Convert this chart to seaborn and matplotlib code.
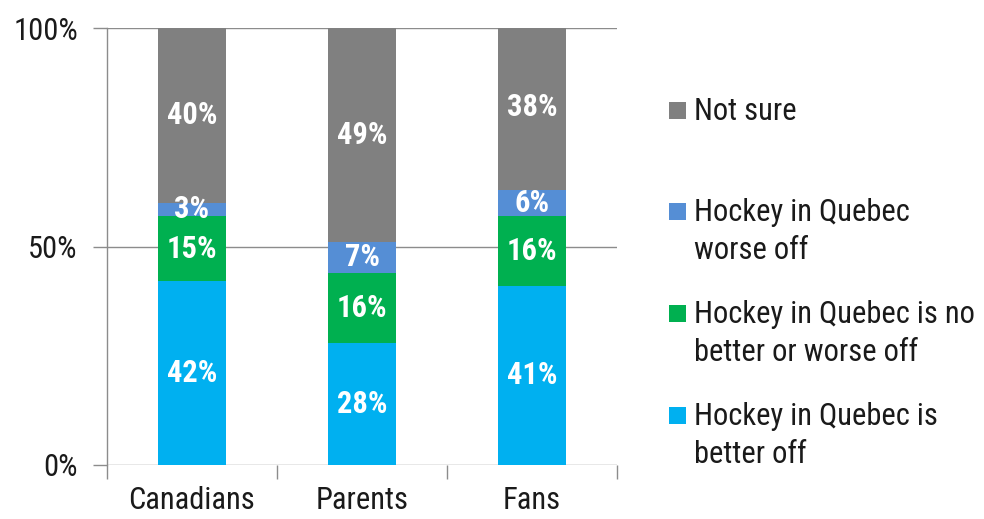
import numpy as np
import pandas as pd
import matplotlib
matplotlib.use("Agg")
import matplotlib.pyplot as plt
from matplotlib.patches import Rectangle
import seaborn as sns

groups = ["Canadians", "Parents", "Fans"]
better_off = [42, 28, 41]
no_change = [15, 16, 16]
worse_off = [3, 7, 6]
not_sure = [40, 49, 38]

series_names = [
    "Hockey in Quebec is\nbetter off",
    "Hockey in Quebec is no\nbetter or worse off",
    "Hockey in Quebec\nworse off",
    "Not sure",
]
series_values = [better_off, no_change, worse_off, not_sure]
colors = ["#00B0F0", "#00B050", "#558ED5", "#808080"]

sns.set_theme(style="white")
plt.rcParams["font.family"] = ["Roboto Condensed", "DejaVu Sans"]

fig = plt.figure(figsize=(9.84, 5.19), dpi=100)
ax = fig.add_axes([107 / 984, 1 - 465 / 519, (617 - 107) / 984, (465 - 28) / 519])

# cumulative stacks, drawn from the top segment down so each layer overlays the last
stack = np.cumsum(np.array(series_values), axis=0)
for i in range(len(series_values) - 1, -1, -1):
    df = pd.DataFrame({"group": groups, "value": stack[i]})
    sns.barplot(data=df, x="group", y="value", color=colors[i], width=0.4,
                saturation=1, ax=ax, linewidth=0, zorder=3)

# segment labels at each segment's middle
for i, vals in enumerate(series_values):
    for j, v in enumerate(vals):
        bottom = stack[i][j] - v
        ax.text(j, bottom + v / 2, f"{v}%", ha="center", va="center",
                color="white", fontsize=22, fontweight="bold", zorder=5)

ax.set_ylim(0, 100)
ax.set_xlim(-0.5, 2.5)
ax.set_yticks([0, 50, 100])
ax.set_yticklabels(["0%", "50%", "100%"])
ax.set_xlabel("")
ax.set_ylabel("")
ax.grid(axis="y", color="#8c8c8c", linewidth=1, zorder=0)
ax.grid(axis="x", visible=False)
for s in ["top", "right", "bottom"]:
    ax.spines[s].set_visible(False)
ax.spines["left"].set_color("#8c8c8c")
ax.spines["left"].set_linewidth(1)

ax.tick_params(axis="y", length=10, width=1, color="#8c8c8c", left=True,
               labelsize=22, pad=11, labelcolor="#1a1a1a")
ax.set_xticks([0, 1, 2])
ax.set_xticklabels(groups)
ax.tick_params(axis="x", length=0, labelsize=22, pad=15, labelcolor="#1a1a1a")
# category separator ticks below the axis
ax.set_xticks([-0.5, 0.5, 1.5, 2.5], minor=True)
ax.tick_params(axis="x", which="minor", length=10, width=1, color="#8c8c8c", bottom=True)

# legend: swatch level with the first line of each label (cap-top pixel rows)
line_step = 38
legend_rows = [(series_names[3], colors[3], 97),
               (series_names[2], colors[2], 198),
               (series_names[1], colors[1], 300),
               (series_names[0], colors[0], 402)]
for label, col, cap_top in legend_rows:
    fig.patches.append(Rectangle((669 / 984, 1 - (cap_top + 22) / 519), 17 / 984, 17 / 519,
                                 transform=fig.transFigure, facecolor=col, edgecolor="none"))
    for k, line in enumerate(label.split("\n")):
        fig.text(694 / 984, 1 - (cap_top + 23 + k * line_step) / 519, line,
                 ha="left", va="baseline", fontsize=22, color="#1a1a1a")

fig.savefig("out.png", dpi=100)
